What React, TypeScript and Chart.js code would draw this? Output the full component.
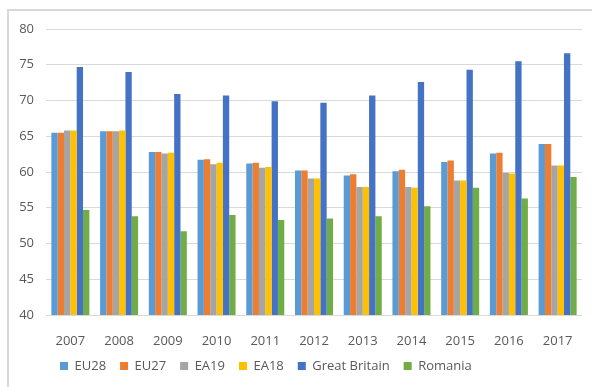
import React, { useEffect, useRef } from "react";
import { Chart, registerables } from "chart.js";

Chart.register(...registerables);

const years = ["2007", "2008", "2009", "2010", "2011", "2012", "2013", "2014", "2015", "2016", "2017"];

const eu28 = [65.5, 65.7, 62.8, 61.7, 61.2, 60.2, 59.5, 60.1, 61.4, 62.6, 63.9];
const eu27 = [65.5, 65.7, 62.8, 61.8, 61.3, 60.2, 59.7, 60.3, 61.6, 62.7, 63.9];
const ea19 = [65.8, 65.7, 62.6, 61.1, 60.6, 59.1, 57.9, 57.9, 58.8, 59.9, 60.9];
const ea18 = [65.8, 65.8, 62.7, 61.3, 60.7, 59.1, 57.9, 57.8, 58.8, 59.8, 60.9];
const greatBritain = [74.7, 74.0, 70.9, 70.7, 69.9, 69.7, 70.7, 72.6, 74.3, 75.5, 76.6];
const romania = [54.7, 53.8, 51.7, 54.0, 53.3, 53.5, 53.8, 55.2, 57.8, 56.3, 59.3];

const yMin = 40;
const yMax = 80;
const yStep = 5;

const FONT = "'Open Sans', 'Liberation Sans', sans-serif";
const TEXT = "#595959";
const GRID = "#d9d9d9";

export default function App() {
  const canvasRef = useRef<HTMLCanvasElement | null>(null);

  useEffect(() => {
    const canvas = canvasRef.current;
    if (!canvas) return;
    const series = [
      { label: "EU28", data: eu28, color: "#5b9bd5" },
      { label: "EU27", data: eu27, color: "#ed7d31" },
      { label: "EA19", data: ea19, color: "#a5a5a5" },
      { label: "EA18", data: ea18, color: "#ffc000" },
      { label: "Great Britain", data: greatBritain, color: "#4472c4" },
      { label: "Romania", data: romania, color: "#70ad47" },
    ];
    const chart = new Chart(canvas, {
      type: "bar",
      data: {
        labels: years,
        datasets: series.map((s) => ({
          label: s.label,
          data: s.data,
          backgroundColor: s.color,
          borderWidth: 0,
          categoryPercentage: 0.78,
          barPercentage: 1,
        })),
      },
      options: {
        animation: false,
        responsive: false,
        maintainAspectRatio: false,
        layout: { padding: { left: 10, right: 10, top: 29, bottom: 4.5 } },
        plugins: {
          tooltip: { enabled: false },
          legend: {
            position: "bottom",
            align: "start",
            fullSize: false,
            labels: {
              boxWidth: 8,
              boxHeight: 8,
              padding: 14,
              color: TEXT,
              font: { family: FONT, size: 13 },
            },
          },
        },
        scales: {
          x: {
            grid: { display: false },
            border: { display: false },
            ticks: { color: TEXT, font: { family: FONT, size: 13 }, padding: 10 },
            afterFit: (scale: any) => {
              scale.height = 30.5;
            },
          },
          y: {
            min: yMin,
            max: yMax,
            grid: { color: GRID, lineWidth: 1, drawTicks: false },
            border: { display: false },
            ticks: {
              stepSize: yStep,
              color: TEXT,
              font: { family: FONT, size: 13 },
              padding: 12,
            },
            afterFit: (scale: any) => {
              scale.width = 36;
            },
          },
        },
      },
    });
    return () => chart.destroy();
  }, []);

  return (
    <div
      style={{
        position: "fixed",
        left: 0,
        top: 0,
        width: 592,
        height: 387,
        background: "#ffffff",
        overflow: "hidden",
      }}
    >
      <div
        style={{
          position: "absolute",
          left: 7,
          top: 9,
          width: 600,
          height: 400,
          borderTop: "2px solid #d9d9d9",
          borderLeft: "2px solid #d9d9d9",
        }}
      />
      <canvas
        ref={canvasRef}
        width={592}
        height={387}
        style={{ position: "absolute", left: 0, top: 0, width: 592, height: 387 }}
      />
    </div>
  );
}
